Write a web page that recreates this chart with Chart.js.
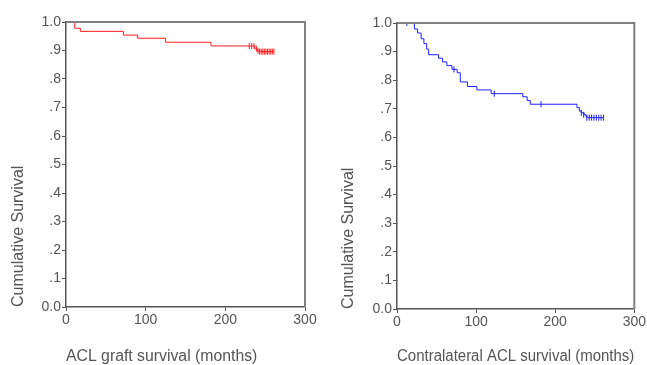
<!DOCTYPE html>
<html>
<head>
<meta charset="utf-8">
<script src="https://cdn.jsdelivr.net/npm/chart.js@4/dist/chart.umd.min.js"></script>
<style>
  body { margin: 0; background: #fff; }
  #left { position: absolute; left: 0; top: 0; }
  #right { position: absolute; left: 325px; top: 0; }
</style>
</head>
<body>
<canvas id="left" width="325" height="365"></canvas>
<canvas id="right" width="322" height="365"></canvas>
<script>
// ACL graft survival (months) - step points of the Kaplan-Meier curve
var graftTimes = [0, 11, 18, 72, 90, 125, 182, 237, 240, 243, 261];
var graftSurv = [1.0, 0.978, 0.967, 0.954, 0.943, 0.929, 0.916, 0.906, 0.899, 0.896, 0.896];
// censored cases
var graftCensTimes = [230, 233, 236, 239, 241, 243, 245, 247, 249, 251, 253, 255, 257, 259, 261];
var graftCensSurv = [0.916, 0.916, 0.916, 0.906, 0.899, 0.896, 0.896, 0.896, 0.896, 0.896, 0.896, 0.896, 0.896, 0.896, 0.896];

// Contralateral ACL survival (months)
var contraTimes = [0, 22, 26, 30.5, 34, 37.5, 40, 52.5, 57.5, 63, 69.5, 76, 80, 89, 101, 119, 159, 164.5, 168.5, 227.5, 230.5, 233, 236.5, 239, 241, 261];
var contraSurv = [1.0, 0.979, 0.965, 0.945, 0.928, 0.909, 0.889, 0.877, 0.864, 0.851, 0.838, 0.826, 0.794, 0.778, 0.766, 0.753, 0.742, 0.729, 0.716, 0.704, 0.692, 0.686, 0.679, 0.672, 0.669, 0.669];
var contraCensTimes = [12.5, 72, 123, 182, 233, 236, 240, 243, 246, 249, 252, 255, 258, 261];
var contraCensSurv = [1.0, 0.838, 0.753, 0.716, 0.686, 0.679, 0.669, 0.669, 0.669, 0.669, 0.669, 0.669, 0.669, 0.669];

// stray legend dot left over right of each plot
var strayTime = [311];
var straySurv = [0.181];

var xTicks = [0, 100, 200, 300];
var yTickLabels = ["0.0", ".1", ".2", ".3", ".4", ".5", ".6", ".7", ".8", ".9", "1.0"];

function pts(xs, ys) {
  return xs.map(function (x, i) { return { x: x, y: ys[i] }; });
}

// top and right edge of the plot box
var frame = {
  id: "frame",
  afterDraw: function (chart) {
    var a = chart.chartArea;
    var ctx = chart.ctx;
    ctx.save();
    ctx.strokeStyle = "#808080";
    ctx.lineWidth = 2;
    ctx.beginPath();
    ctx.moveTo(a.left, a.top);
    ctx.lineTo(a.right, a.top);
    ctx.lineTo(a.right, a.bottom);
    ctx.stroke();
    ctx.restore();
  }
};

function makeChart(id, color, times, surv, censT, censS, xTitle, box) {
  return new Chart(document.getElementById(id), {
    type: "scatter",
    data: {
      datasets: [
        {
          type: "line",
          data: pts(times, surv),
          stepped: "before", // horizontal, then drop at the event time
          borderColor: color,
          borderWidth: 1,
          pointRadius: 0,
          fill: false
        },
        {
          data: pts(censT, censS),
          pointStyle: "line",
          pointRotation: 90,
          pointRadius: 3,
          pointBorderColor: color,
          pointBorderWidth: 1,
          pointBackgroundColor: color
        },
        {
          data: pts(strayTime, straySurv),
          pointStyle: "line",
          pointRadius: 1,
          pointBorderColor: color,
          pointBorderWidth: 1,
          clip: false
        }
      ]
    },
    options: {
      responsive: false,
      animation: false,
      layout: { padding: { left: 0, top: box.top, right: box.right, bottom: 0 } },
      plugins: { legend: { display: false }, tooltip: { enabled: false } },
      scales: {
        x: {
          type: "linear",
          min: 0,
          max: 300,
          afterBuildTicks: function (scale) {
            scale.ticks = xTicks.map(function (v) { return { value: v }; });
          },
          afterFit: function (scale) { scale.height = box.xh; },
          grid: { drawOnChartArea: false, drawTicks: true, tickLength: 4, color: "#555" },
          border: { display: true, color: "#555", width: 1.5 },
          ticks: {
            color: "#555",
            padding: 1,
            maxRotation: 0,
            font: { family: "'Liberation Sans', Arial", size: 14 }
          },
          title: {
            display: true,
            text: xTitle,
            align: "start",
            color: "#555",
            padding: { top: 0, bottom: 0 },
            font: { family: "'Liberation Sans', Arial", size: 15.8, lineHeight: 1 }
          }
        },
        y: {
          min: 0,
          max: 1,
          afterBuildTicks: function (scale) {
            scale.ticks = yTickLabels.map(function (t, i) { return { value: i / 10 }; });
          },
          afterFit: function (scale) { scale.width = box.left; },
          grid: { drawOnChartArea: false, drawTicks: true, tickLength: 4, color: "#555" },
          border: { display: true, color: "#555", width: 1.5 },
          ticks: {
            color: "#555",
            padding: 1,
            font: { family: "'Liberation Sans', Arial", size: 14 },
            callback: function (v, i) { return yTickLabels[i]; }
          },
          title: {
            display: true,
            text: "Cumulative Survival",
            align: "start",
            color: "#555",
            padding: { top: box.ytp, bottom: 0 },
            font: { family: "'Liberation Sans', Arial", size: 16, lineHeight: 1 }
          }
        }
      }
    },
    plugins: [frame]
  });
}

makeChart("left", "#ff2020", graftTimes, graftSurv, graftCensTimes, graftCensSurv,
  "ACL graft survival (months)", { left: 66, top: 22, right: 20, xh: 58, ytp: 10.5 });
makeChart("right", "#2020ff", contraTimes, contraSurv, contraCensTimes, contraCensSurv,
  "Contralateral ACL survival (months)", { left: 72, top: 23, right: 11, xh: 56, ytp: 16 });
</script>
</body>
</html>
